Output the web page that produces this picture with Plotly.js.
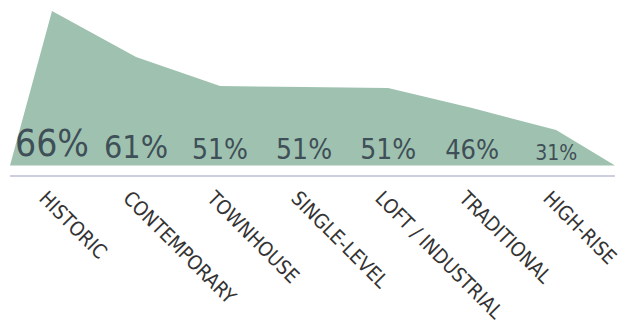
<!DOCTYPE html>
<html><head><meta charset="utf-8">
<script src="https://cdn.plot.ly/plotly-3.0.1.min.js"></script>
<style>html,body{margin:0;padding:0;background:#fff}#chart{width:626px;height:329px}</style>
</head><body><div id="chart"></div>
<script>
// Data
var categories = ["HISTORIC","CONTEMPORARY","TOWNHOUSE","SINGLE-LEVEL","LOFT / INDUSTRIAL","TRADITIONAL","HIGH-RISE"];
var shapeHeights = [154.5, 108.5, 79.5, 78.5, 77.5, 57.5, 35.5]; // drawn area heights
var percentLabels = ["66%","61%","51%","51%","51%","46%","31%"];
var labelSizes = [37, 32, 28, 28, 28, 27, 21];
var areaStartX = -0.5, areaEndX = 6.7;

var idx = categories.map(function(_, i){ return i; });
var areaX = [areaStartX].concat(idx, [areaEndX]);
var areaY = [0].concat(shapeHeights, [0]);

var font = "'Liberation Sans Narrow', 'DejaVu Sans Condensed', sans-serif";

var traces = [
  {x: areaX, y: areaY, type: 'scatter', mode: 'lines', fill: 'tozeroy',
   fillcolor: '#9fc2b0', line: {width: 0, color: '#9fc2b0'}, hoverinfo: 'skip'},
  {x: idx, y: idx.map(function(){ return 0; }), type: 'scatter', mode: 'text',
   text: percentLabels, textposition: 'top center',
   textfont: {family: font, size: labelSizes, color: '#3f4f57'}, hoverinfo: 'skip'}
];

var layout = {
  width: 626, height: 329,
  margin: {l: 10, r: 11, t: 0, b: 154, pad: 0},
  paper_bgcolor: '#fff', plot_bgcolor: '#fff',
  showlegend: false,
  xaxis: {range: [-0.5, 6.7], tickvals: idx, ticktext: categories, tickangle: 45,
    ticklabeloverflow: 'allow', ticklabelshift: -7, ticklabelstandoff: 2,
    showgrid: false, zeroline: false, showline: true, linecolor: '#cdd0dc', linewidth: 1.5,
    ticks: '', tickfont: {family: font, size: 20, color: '#333'}},
  yaxis: {range: [-9.5, 165.5], visible: false, showgrid: false, zeroline: false}
};
Plotly.newPlot('chart', traces, layout, {staticPlot: true, displayModeBar: false});
</script></body></html>
